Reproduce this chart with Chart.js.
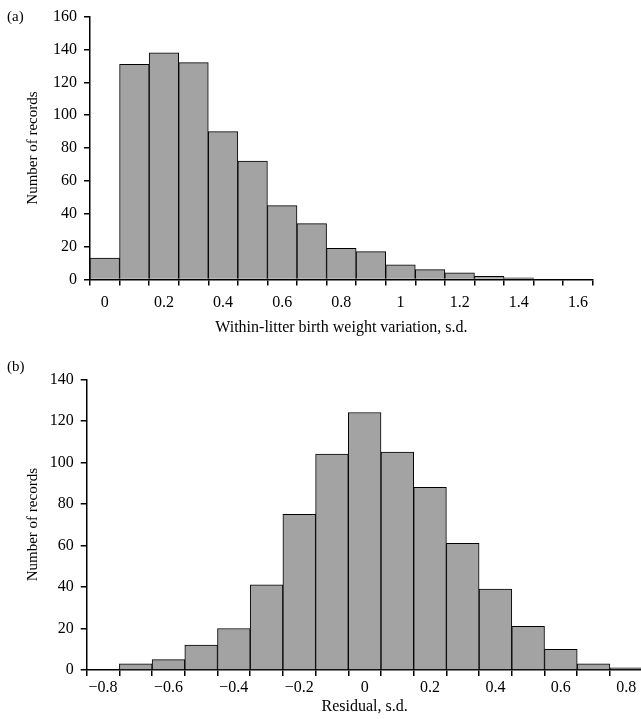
<!DOCTYPE html>
<html>
<head>
<meta charset="utf-8">
<script src="https://cdn.jsdelivr.net/npm/chart.js@4.4.1/dist/chart.umd.min.js"></script>
<style>
  html, body { margin: 0; padding: 0; background: #fff; overflow: hidden; }
  body { width: 641px; height: 719px; position: relative; }
  canvas { position: absolute; left: 0; }
  #chartA { top: 0; }
  #chartB { top: 340px; }
  .panel { position: absolute; left: 7px; color: #000; font: 15px "Liberation Serif", "Times New Roman", serif; line-height: 18px; }
</style>
</head>
<body>
<canvas id="chartA" width="641" height="340"></canvas>
<canvas id="chartB" width="660" height="379"></canvas>
<div class="panel" style="top:7px">(a)</div>
<div class="panel" style="top:357px">(b)</div>
<script>
// (a) within-litter birth weight variation
const binsA = ['0', '0.1', '0.2', '0.3', '0.4', '0.5', '0.6', '0.7', '0.8', '0.9', '1', '1.1', '1.2', '1.3', '1.4', '1.5', '1.6'];
const countsA = [13, 131, 138, 132, 90, 72, 45, 34, 19, 17, 9, 6, 4, 2, 1, 0, 0];
const shownA = ['0', '0.2', '0.4', '0.6', '0.8', '1', '1.2', '1.4', '1.6'];

// (b) residuals
const binsB = ['\u22120.8', '\u22120.7', '\u22120.6', '\u22120.5', '\u22120.4', '\u22120.3', '\u22120.2', '\u22120.1', '0', '0.1', '0.2', '0.3', '0.4', '0.5', '0.6', '0.7', '0.8'];
const countsB = [0, 3, 5, 12, 20, 41, 75, 104, 124, 105, 88, 61, 39, 21, 10, 3, 1];
const shownB = ['\u22120.8', '\u22120.6', '\u22120.4', '\u22120.2', '0', '0.2', '0.4', '0.6', '0.8'];

const family = '"Liberation Serif", "Times New Roman", serif';
const tickFont = { family: family, size: 16 };
const yTitleFont = { family: family, size: 15 };

function histogram(id, bins, counts, shown, yMax, xTitle, box) {
    const axisGrid = { drawOnChartArea: false, color: '#000', lineWidth: 1.5, tickLength: 6 };
    const axisBorder = { color: '#000', width: 1.5 };

    return new Chart(document.getElementById(id).getContext('2d'), {
        type: 'bar',
        data: {
            labels: bins,
            datasets: [{
                data: counts,
                backgroundColor: '#a3a3a3',
                borderColor: '#000',
                borderWidth: 1,
                barPercentage: 1,
                categoryPercentage: 1
            }]
        },
        options: {
            responsive: false,
            animation: false,
            layout: { padding: { top: box.top, right: box.right, left: 0, bottom: 0 } },
            plugins: {
                legend: { display: false },
                tooltip: { enabled: false }
            },
            scales: {
                x: {
                    grid: Object.assign({ offset: true }, axisGrid),
                    border: axisBorder,
                    ticks: {
                        autoSkip: false,
                        maxRotation: 0,
                        color: '#000',
                        font: tickFont,
                        padding: box.xPad,
                        callback: function(v) {
                            const label = this.getLabelForValue(v);
                            return shown.includes(label) ? label : '';
                        }
                    },
                    title: { display: true, text: xTitle, color: '#000', font: tickFont, padding: { top: 0, bottom: box.titlePad } },
                    afterFit: s => { s.height = box.xHeight; }
                },
                y: {
                    min: 0,
                    max: yMax,
                    grid: axisGrid,
                    border: axisBorder,
                    ticks: { stepSize: 20, color: '#000', font: tickFont, padding: 7 },
                    title: { display: true, text: 'Number of records', color: '#000', font: yTitleFont, padding: { top: 24, bottom: 0 } },
                    afterFit: s => { s.width = box.yWidth; }
                }
            }
        }
    });
}

histogram('chartA', binsA, countsA, shownA, 160, 'Within-litter birth weight variation, s.d.',
    { top: 15, right: 48.3, xHeight: 60.5, yWidth: 90, titlePad: 2.5, xPad: 7.5 });

histogram('chartB', binsB, countsB, shownB, 140, 'Residual, s.d.',
    { top: 39.3, right: 17.4, xHeight: 49, yWidth: 86.7, titlePad: 2.5, xPad: 2.5 });
</script>
</body>
</html>
